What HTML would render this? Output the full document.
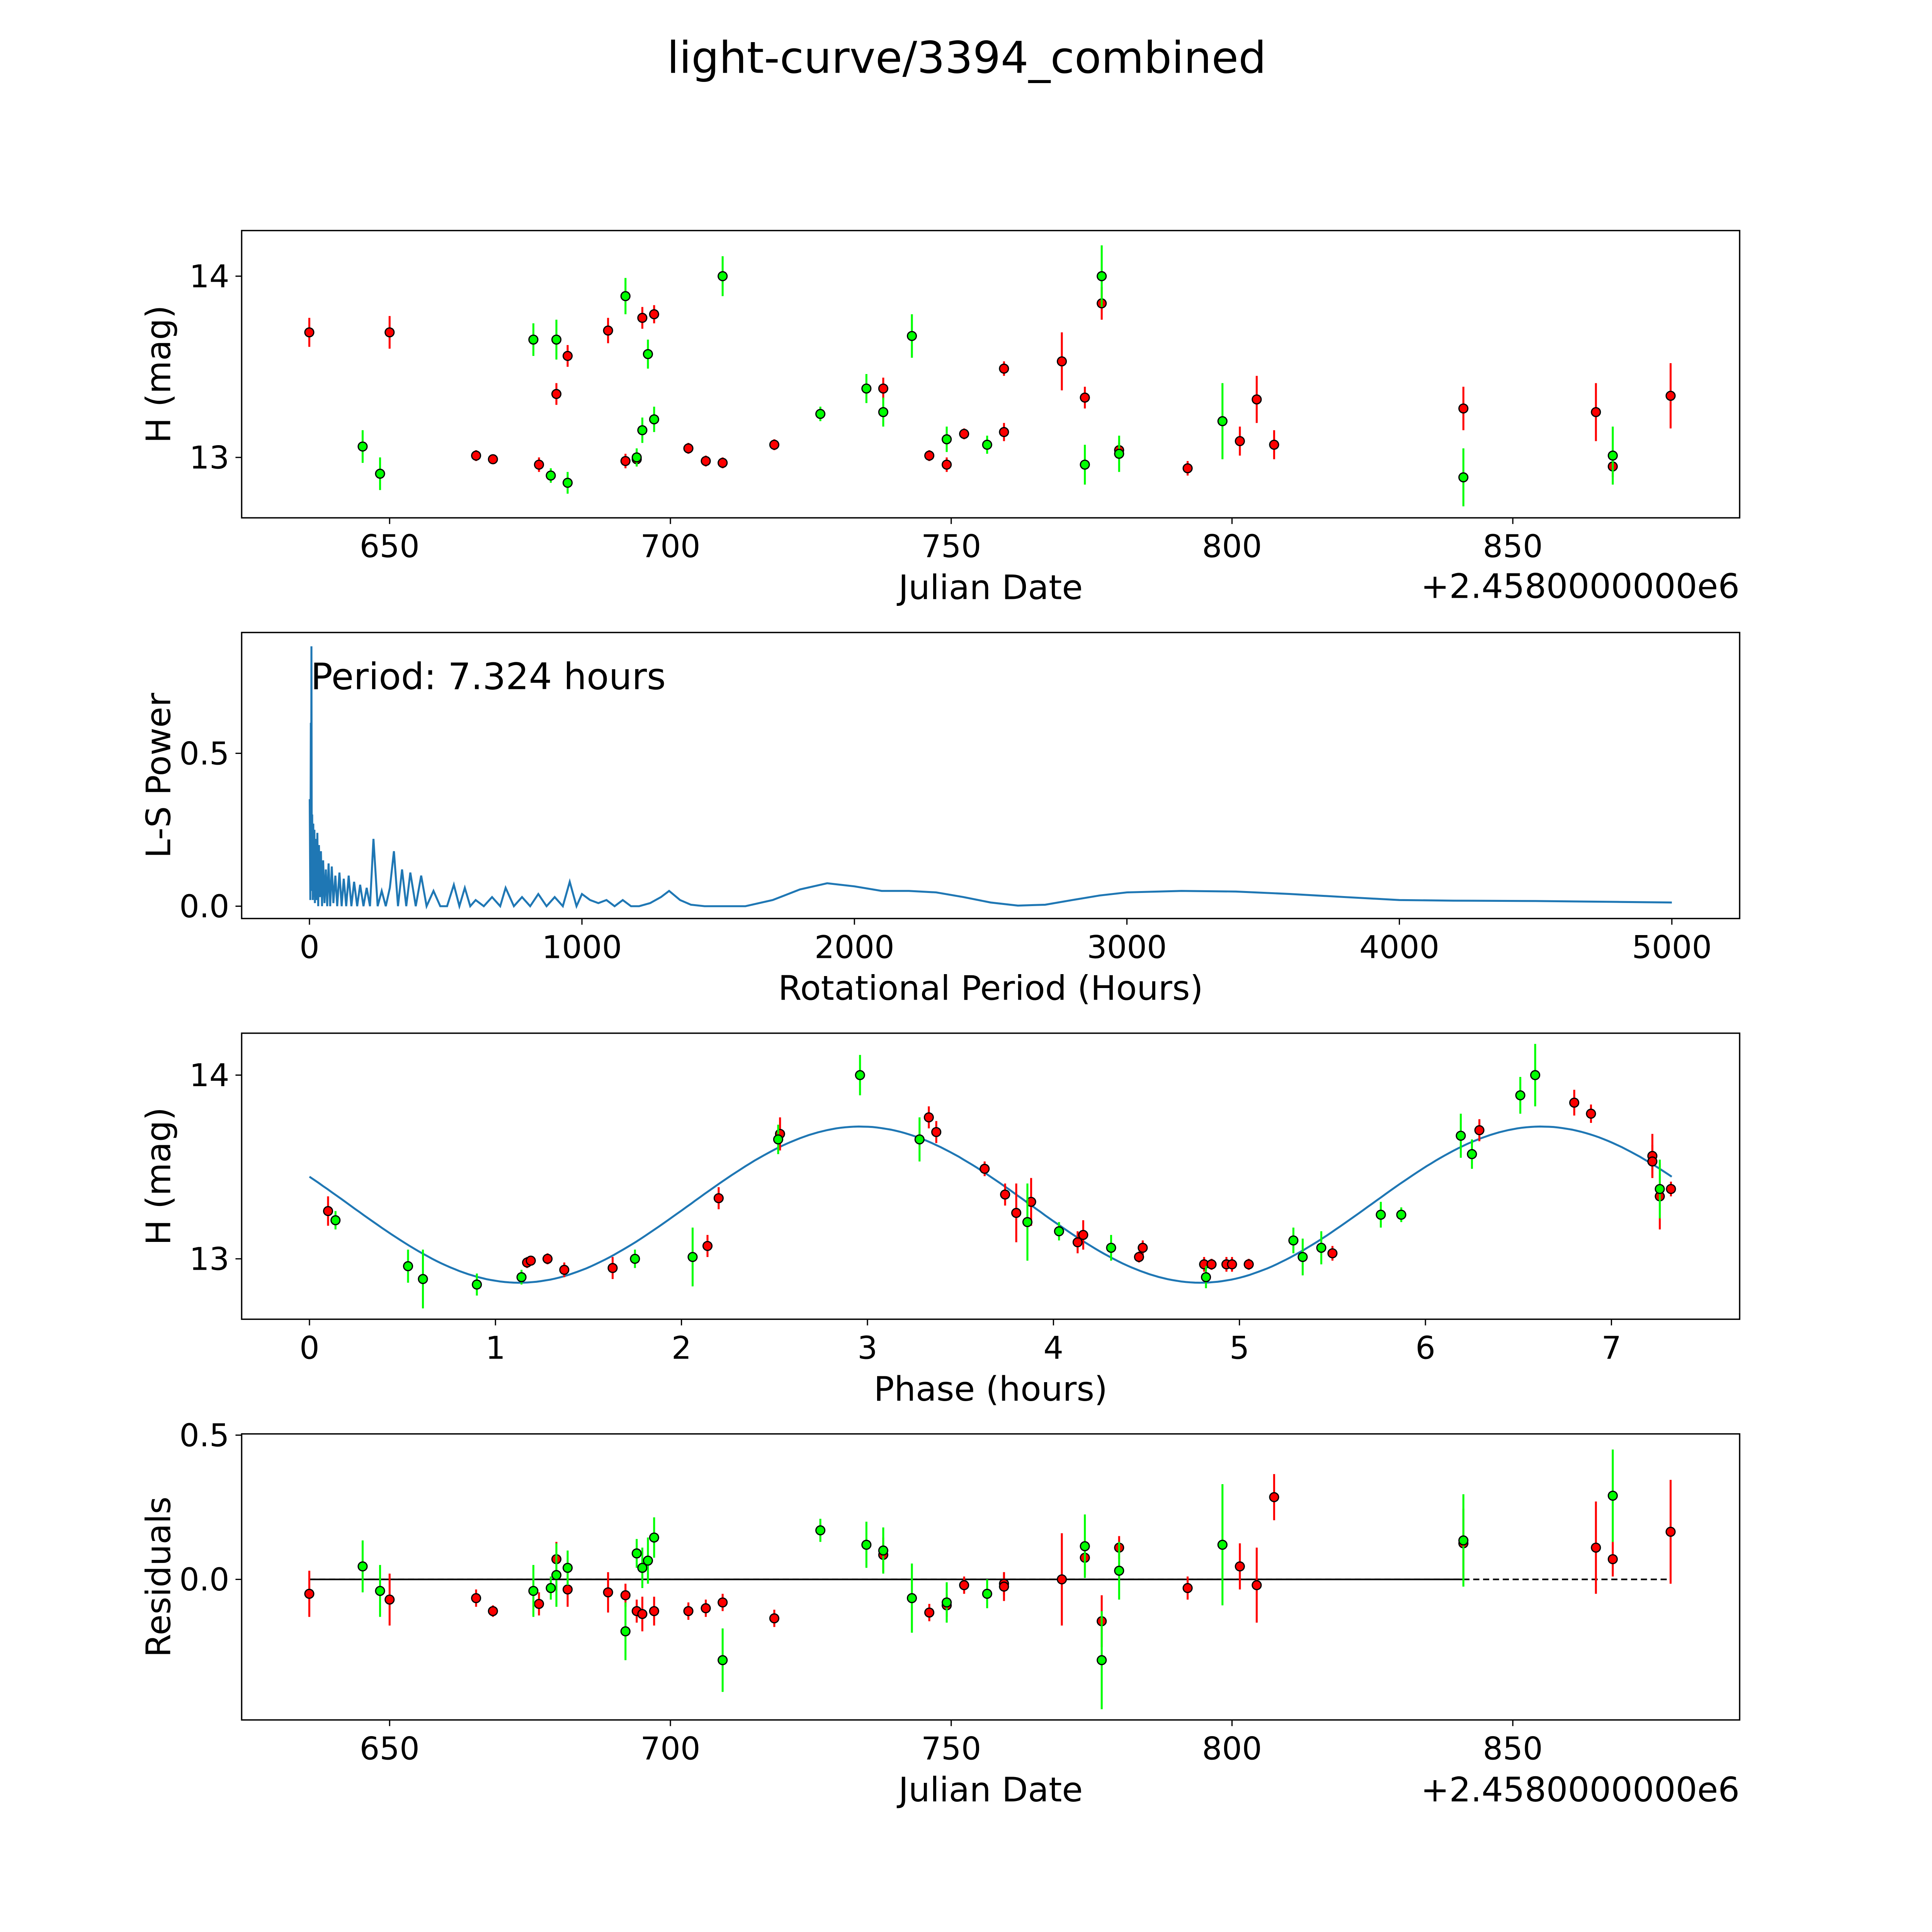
<!DOCTYPE html>
<html><head><meta charset="utf-8"><style>html,body{margin:0;padding:0;background:#fff;overflow:hidden;width:100vw;height:100vh}svg{display:block;width:100vw;height:100vh}text{font-family:"DejaVu Sans","Liberation Sans",sans-serif;fill:#000}</style></head>
<body>
<svg id="fig" viewBox="0 0 1567 1567" preserveAspectRatio="none" xmlns="http://www.w3.org/2000/svg">
<rect width="1567" height="1567" fill="#fff"/>
<text x="784" y="59" font-size="35.5" text-anchor="middle">light-curve/3394_combined</text>
<g id="root"></g>
</svg>
<script>
// ---- data ----
const redJD=[635.7,650.0,665.4,668.4,676.6,679.7,681.7,688.9,692.0,694.0,695.0,697.1,703.2,706.3,709.3,718.5,737.9,746.1,749.2,752.3,759.4,759.4,769.7,773.8,776.8,779.9,792.1,801.4,804.4,807.5,841.2,864.8,867.8,878.1];
const redH=[13.69,13.69,13.01,12.99,12.96,13.35,13.56,13.70,12.98,12.99,13.77,13.79,13.05,12.98,12.97,13.07,13.38,13.01,12.96,13.13,13.49,13.14,13.53,13.33,13.85,13.04,12.94,13.09,13.32,13.07,13.27,13.25,12.95,13.34];
const redErr=[0.08,0.09,0.03,0.02,0.04,0.06,0.06,0.07,0.04,0.04,0.06,0.05,0.03,0.03,0.03,0.03,0.06,0.03,0.04,0.03,0.04,0.05,0.16,0.06,0.09,0.04,0.04,0.08,0.13,0.08,0.12,0.16,0.06,0.18];
const redRes=[-0.05,-0.07,-0.065,-0.11,-0.085,0.07,-0.035,-0.045,-0.055,-0.11,-0.12,-0.11,-0.11,-0.10,-0.08,-0.135,0.085,-0.115,-0.09,-0.02,-0.015,-0.025,0.0,0.075,-0.145,0.11,-0.03,0.045,-0.02,0.285,0.125,0.11,0.07,0.165];
const grnJD=[645.2,648.3,675.6,678.7,679.7,681.7,692.0,694.0,695.0,696.0,697.1,709.3,726.7,734.9,737.9,743.0,749.2,756.4,773.8,776.8,779.9,798.3,841.2,867.8];
const grnH=[13.06,12.91,13.65,12.90,13.65,12.86,13.89,13.00,13.15,13.57,13.21,14.00,13.24,13.38,13.25,13.67,13.10,13.07,12.96,14.00,13.02,13.20,12.89,13.01];
const grnErr=[0.09,0.09,0.09,0.04,0.11,0.06,0.10,0.05,0.07,0.08,0.07,0.11,0.04,0.08,0.08,0.12,0.07,0.05,0.11,0.17,0.10,0.21,0.16,0.16];
const grnRes=[0.045,-0.04,-0.04,-0.03,0.015,0.04,-0.18,0.09,0.04,0.065,0.145,-0.28,0.17,0.12,0.1,-0.065,-0.08,-0.05,0.115,-0.28,0.03,0.12,0.135,0.29];
const redPh=[0.1,1.17,1.19,1.28,1.37,1.63,2.14,2.2,2.53,3.33,3.37,3.63,3.74,3.8,3.88,4.13,4.16,4.46,4.48,4.81,4.85,4.93,4.96,5.05,5.5,6.29,6.8,6.89,7.22,7.22,7.26,7.32];
const redPhH=[13.26,12.98,12.99,13.00,12.94,12.95,13.07,13.33,13.68,13.77,13.69,13.49,13.35,13.25,13.31,13.09,13.13,13.01,13.06,12.97,12.97,12.97,12.97,12.97,13.03,13.70,13.85,13.79,13.56,13.53,13.34,13.38];
const redPhErr=[0.08,0.03,0.02,0.03,0.04,0.06,0.06,0.06,0.09,0.06,0.06,0.04,0.06,0.16,0.13,0.06,0.08,0.03,0.04,0.04,0.03,0.04,0.04,0.03,0.04,0.06,0.07,0.05,0.12,0.09,0.18,0.04];
const grnPh=[0.14,0.53,0.61,0.9,1.14,1.75,2.06,2.52,2.96,3.28,3.86,4.03,4.31,4.82,5.29,5.34,5.44,5.76,5.87,6.19,6.25,6.51,6.59,7.26];
const grnPhH=[13.21,12.96,12.89,12.86,12.90,13.00,13.01,13.65,14.00,13.65,13.20,13.15,13.06,12.90,13.10,13.01,13.06,13.24,13.24,13.67,13.57,13.89,14.00,13.38];
const grnPhErr=[0.05,0.09,0.16,0.06,0.04,0.05,0.16,0.08,0.11,0.12,0.21,0.05,0.07,0.06,0.07,0.10,0.09,0.07,0.04,0.12,0.08,0.10,0.17,0.16];
const lsPeriod=[1,3,5,6,7.3,8.5,10,12,14,16,18,20,23,26,29,32,35,38,42,46,50,55,60,65,70,76,82,88,95,102,110,118,126,135,144,154,164,175,186,198,210,222,235,250,265,280,295,310,325,340,355,370,390,410,430,455,480,505,530,550,570,590,610,640,670,700,720,750,780,810,840,870,900,930,955,980,1000,1030,1060,1090,1120,1150,1180,1210,1250,1290,1320,1360,1400,1450,1500,1600,1700,1800,1900,2000,2100,2200,2300,2400,2500,2600,2700,2800,2900,3000,3200,3400,3600,3800,4000,4200,4500,4800,5000];
const lsPower=[0.35,0.02,0.6,0.1,0.85,0.05,0.3,0.02,0.27,0.03,0.25,0.01,0.22,0.02,0.24,0.0,0.2,0.03,0.18,0.0,0.15,0.01,0.12,0.0,0.14,0.0,0.13,0.01,0.1,0.0,0.11,0.0,0.09,0.0,0.1,0.0,0.08,0.0,0.07,0.0,0.06,0.0,0.22,0.0,0.05,0.0,0.06,0.18,0.0,0.12,0.0,0.11,0.0,0.1,0.0,0.05,0.0,0.0,0.07,0.0,0.06,0.0,0.02,0.0,0.03,0.0,0.06,0.0,0.03,0.0,0.04,0.0,0.03,0.0,0.08,0.0,0.04,0.02,0.01,0.02,0.0,0.02,0.0,0.0,0.01,0.03,0.05,0.02,0.005,0.0,0.0,0.0,0.02,0.055,0.075,0.065,0.05,0.05,0.045,0.03,0.012,0.002,0.005,0.02,0.035,0.045,0.05,0.048,0.04,0.03,0.02,0.018,0.017,0.014,0.012];
const jdTicks=[650,700,750,800,850];
const lsTicks=[0,1000,2000,3000,4000,5000];
const phTicks=[0,1,2,3,4,5,6,7];
const hTicks=[13,14];
const lsYTicks=[0.0,0.5];
const resYTicks=[0.0,0.5];
// ---- rendering ----
const NS="http://www.w3.org/2000/svg";
const root=document.getElementById('root');
function mk(tag,attrs,parent){const e=document.createElementNS(NS,tag);for(const k in attrs)e.setAttribute(k,attrs[k]);(parent||root).appendChild(e);return e;}
function lin(d0,d1,p0,p1){return v=>p0+(v-d0)*(p1-p0)/(d1-d0);}
const L=196,R=1411;
function frame(name,top,bot,xs,xt,xfmt,ys,yt,yfmt,xlabel,ylabel){
  const g=mk('g',{});
  
  
  const r=mk('rect',{x:L,y:top,width:R-L,height:bot-top,fill:'none',stroke:'#000','stroke-width':1.1},g);
  
  
  xt.forEach(v=>{const x=xs(v);mk('line',{x1:x,x2:x,y1:bot,y2:bot+5,stroke:'#000'},g);
    const t=mk('text',{x:x,y:bot+32,'font-size':25.5,'text-anchor':'middle'},g);t.textContent=xfmt(v);
    
    });
  yt.forEach(v=>{const y=ys(v);mk('line',{x1:L,x2:L-5,y1:y,y2:y,stroke:'#000'},g);
    const t=mk('text',{x:L-10,y:y+9,'font-size':25.5,'text-anchor':'end'},g);t.textContent=yfmt(v);
    
    });
  const xl=mk('text',{x:(L+R)/2,y:bot+66,'font-size':27.5,'text-anchor':'middle'},g);xl.textContent=xlabel;
  
  
  const yy=(top+bot)/2;
  const yl=mk('text',{x:0,y:0,'font-size':27.5,'text-anchor':'middle',transform:`translate(138,${yy}) rotate(-90)`},g);yl.textContent=ylabel;
  
  
  return g;
}
function pts(g,xs,ys,X,Y,E,color,name){
  X.forEach((v,i)=>{const x=xs(v);
    const l=mk('line',{x1:x,x2:x,y1:ys(Y[i]-E[i]),y2:ys(Y[i]+E[i]),stroke:color,'stroke-width':1.6},g);
    
    });
  X.forEach((v,i)=>{const c=mk('circle',{cx:xs(v),cy:ys(Y[i]),r:3.6,fill:color,stroke:'#000','stroke-width':1},g);
    
    });
}
const jdX=lin(650,850,316,1227);
// panel 1
{const ys=lin(13,14,371,224);
 const g=frame('light-curve-panel',187,420,jdX,jdTicks,v=>v,ys,hTicks,v=>v,'Julian Date','H (mag)');
 pts(g,jdX,ys,redJD,redH,redErr,'#ff0000','red');
 pts(g,jdX,ys,grnJD,grnH,grnErr,'#00ff00','green');
 const o=mk('text',{x:R,y:485,'font-size':27.5,'text-anchor':'end'},g);o.textContent='+2.4580000000e6';
 
 }
// panel 2
{const xs=lin(0,5000,251,1356),ys=lin(0,0.5,735,611);
 const g=frame('periodogram-panel',513,745,xs,lsTicks,v=>v,ys,lsYTicks,v=>v.toFixed(1),'Rotational Period (Hours)','L-S Power');
 const p=mk('path',{d:lsPeriod.map((v,i)=>(i?'L':'M')+xs(v).toFixed(1)+','+ys(lsPower[i]).toFixed(1)).join(''),fill:'none',stroke:'#1f77b4','stroke-width':1.6},g);
 
 
 const t=mk('text',{x:252,y:559,'font-size':29.5},g);t.textContent='Period: 7.324 hours';
 
 }
// panel 3
{const xs=lin(0,7,251,1307),ys=lin(13,14,1021,872);
 const g=frame('phase-panel',838,1070,xs,phTicks,v=>v,ys,hTicks,v=>v,'Phase (hours)','H (mag)');
 let d='';for(let i=0;i<=300;i++){const t=7.324*i/300;const h=13.295+0.425*Math.cos(2*Math.PI*(t-2.96)/3.662);d+=(i?'L':'M')+xs(t).toFixed(1)+','+ys(h).toFixed(1);}
 const p=mk('path',{d:d,fill:'none',stroke:'#1f77b4','stroke-width':1.6},g);
 
 
 pts(g,xs,ys,redPh,redPhH,redPhErr,'#ff0000','red-phase');
 pts(g,xs,ys,grnPh,grnPhH,grnPhErr,'#00ff00','green-phase');}
// panel 4
{const ys=lin(0,0.5,1281,1164);
 const g=frame('residuals-panel',1163,1395,jdX,jdTicks,v=>v,ys,resYTicks,v=>v.toFixed(1),'Julian Date','Residuals');
 const z1=mk('line',{x1:jdX(635.7),x2:jdX(878.1),y1:ys(0),y2:ys(0),stroke:'#000','stroke-width':1.3,'stroke-dasharray':'5,3'},g);
 
 
 const z2=mk('line',{x1:jdX(635.7),x2:jdX(841.2),y1:ys(0),y2:ys(0),stroke:'#000','stroke-width':1.3},g);
 
 
 pts(g,jdX,ys,redJD,redRes,redErr,'#ff0000','red-res');
 pts(g,jdX,ys,grnJD,grnRes,grnErr,'#00ff00','green-res');
 const o=mk('text',{x:R,y:1461,'font-size':27.5,'text-anchor':'end'},g);o.textContent='+2.4580000000e6';
 
 }
</script>
</body></html>
